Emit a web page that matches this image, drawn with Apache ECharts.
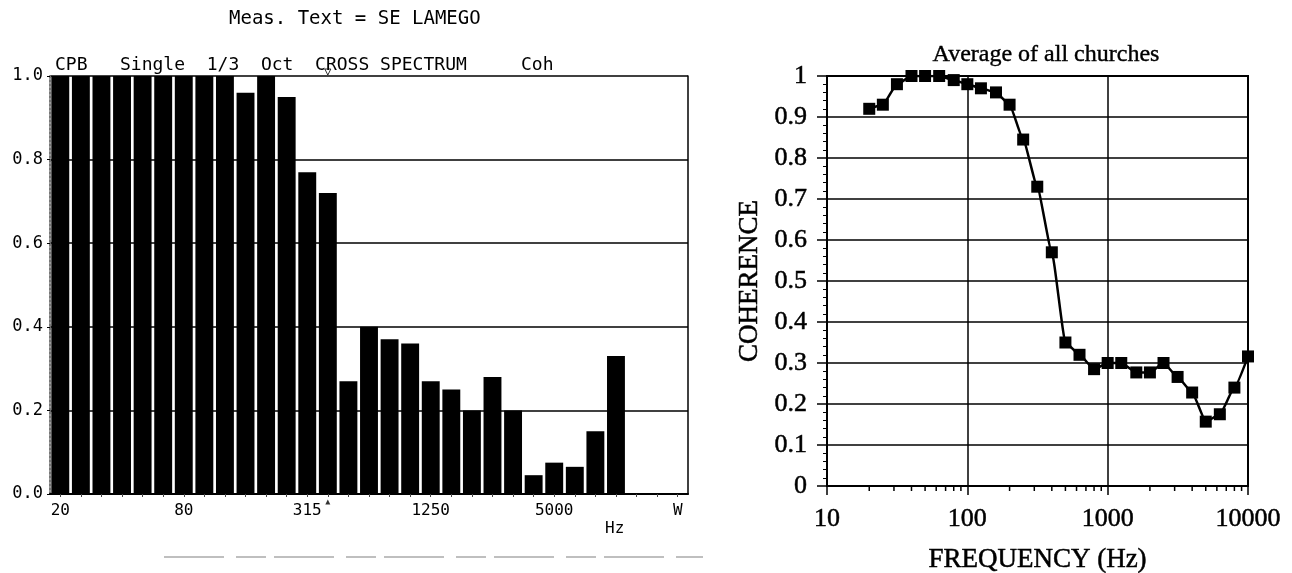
<!DOCTYPE html>
<html>
<head>
<meta charset="utf-8">
<script src="https://cdn.jsdelivr.net/npm/echarts@6/dist/echarts.min.js"></script>
<style>
html,body{margin:0;padding:0;background:#fff;}
#c{width:1292px;height:573px;}
</style>
</head>
<body>
<div id="c"></div>
<script>
// ---- Left panel: CPB 1/3 octave cross spectrum coherence (bars) ----
const leftBands = ['20','25','31.5','40','50','63','80','100','125','160','200','250','315','400','500','630','800','1000','1250','1600','2000','2500','3150','4000','5000','6300','8000','10000','12500','16000','W'];
const leftCoherence = [1,1,1,1,1,1,1,1,1,0.96,1,0.95,0.77,0.72,0.27,0.40,0.37,0.36,0.27,0.25,0.20,0.28,0.20,0.045,0.075,0.065,0.15,0.33,null,null,null];
const cursorBand = '400';
const leftTitle = 'Meas. Text = SE LAMEGO';
const leftHeader = 'CPB   Single  1/3  Oct  CROSS SPECTRUM     Coh';

// ---- Right panel: Average of all churches (line) ----
const rightFreq = [20,25,31.5,40,50,63,80,100,125,160,200,250,315,400,500,630,800,1000,1250,1600,2000,2500,3150,4000,5000,6300,8000,10000];
const rightCoherence = [0.92,0.93,0.98,1.0,1.0,1.0,0.99,0.98,0.97,0.96,0.93,0.845,0.73,0.57,0.35,0.32,0.285,0.30,0.30,0.277,0.277,0.30,0.266,0.228,0.157,0.175,0.24,0.316];
const logMinorTicks = [20,30,40,50,60,70,80,90,200,300,400,500,600,700,800,900,2000,3000,4000,5000,6000,7000,8000,9000];
const rightTitle = 'Average of all churches';

const mono = 'DejaVu Sans Mono';
const serif = 'Liberation Serif';

const chart = echarts.init(document.getElementById('c'), null, {renderer:'canvas'});

const option = {
  animation: false,
  backgroundColor: '#fff',
  title: [
    {text: leftTitle, left: 224, top: 5, textStyle:{fontFamily: mono, fontSize: 19, fontWeight: 'normal', color:'#000'}},
    {text: leftHeader, left: 50, top: 51, textStyle:{fontFamily: mono, fontSize: 18, fontWeight: 'normal', color:'#000'}},
    {text: rightTitle, left: 1041, top: 38, textAlign: 'center', textStyle:{fontFamily: serif, fontSize: 24, fontWeight: 'normal', color:'#000', textBorderColor:'#000', textBorderWidth: 0.4}}
  ],
  grid: [
    {left: 50, top: 76, width: 638, height: 418, outerBoundsMode: 'none', containLabel: false},
    {left: 827, top: 76, width: 421, height: 410, outerBoundsMode: 'none', containLabel: false, show: true, borderColor:'#000', borderWidth: 2, backgroundColor:'rgba(0,0,0,0)'}
  ],
  xAxis: [
    {
      type: 'category', gridIndex: 0, data: leftBands,
      axisLine: {show: true, lineStyle:{color:'#000', width: 2}},
      axisTick: {show: true, alignWithLabel: true, interval: 0, length: 3, lineStyle:{color:'#444', width: 1}},
      axisLabel: {interval: 5, margin: 9, color:'#000', fontFamily: mono, fontSize: 16},
      splitLine: {show: false}
    },
    {
      type: 'log', gridIndex: 1, logBase: 10, min: 10, max: 10000,
      axisLine: {show: true, lineStyle:{color:'#000', width: 2}},
      axisTick: {show: true, length: 9, lineStyle:{color:'#000', width: 1.5}},
      axisLabel: {margin: 20, color:'#000', fontFamily: serif, fontSize: 26, textBorderColor:'#000', textBorderWidth: 0.5, formatter: v => String(Math.round(v))},
      splitLine: {show: true, lineStyle:{color:'#000', width: 1.5}},
      name: 'FREQUENCY (Hz)', nameLocation: 'middle', nameGap: 60,
      nameTextStyle: {color:'#000', fontFamily: serif, fontSize: 27, textBorderColor:'#000', textBorderWidth: 0.5}
    }
  ],
  yAxis: [
    {
      type: 'value', gridIndex: 0, min: 0, max: 1, interval: 0.2,
      axisLine: {show: true, lineStyle:{color:'#777', width: 2, type:'dotted'}},
      axisTick: {show: true, length: 3, lineStyle:{color:'#000'}},
      axisLabel: {margin: 7, color:'#000', fontFamily: mono, fontSize: 17, formatter: v => v.toFixed(1)},
      splitLine: {show: true, lineStyle:{color:'#000', width: 1.5}}
    },
    {
      type: 'value', gridIndex: 0, min: 0, max: 1, interval: 0.2, position: 'right',
      axisLine: {show: true, lineStyle:{color:'#000', width: 1.5}},
      axisTick: {show: false}, axisLabel: {show: false}, splitLine: {show: false}
    },
    {
      type: 'value', gridIndex: 1, min: 0, max: 1, interval: 0.1,
      axisLine: {show: true, lineStyle:{color:'#000', width: 2}},
      axisTick: {show: true, length: 10, lineStyle:{color:'#000', width: 1.5}},
      minorTick: {show: true, splitNumber: 5, length: 4, lineStyle:{color:'#000', width: 1}},
      axisLabel: {margin: 20, color:'#000', fontFamily: serif, fontSize: 26, textBorderColor:'#000', textBorderWidth: 0.5},
      splitLine: {show: true, lineStyle:{color:'#000', width: 1.5}},
      name: 'COHERENCE', nameLocation: 'middle', nameGap: 64, nameRotate: 90,
      nameTextStyle: {color:'#000', fontFamily: serif, fontSize: 27, textBorderColor:'#000', textBorderWidth: 0.5}
    }
  ],
  series: [
    {
      type: 'bar', xAxisIndex: 0, yAxisIndex: 0,
      data: leftCoherence, barCategoryGap: '13%',
      itemStyle: {color:'#000'}, silent: true
    },
    {
      type: 'scatter', xAxisIndex: 0, yAxisIndex: 0, clip: false, silent: true,
      data: [[cursorBand, 1]], symbol: 'triangle', symbolRotate: 180, symbolSize: 6, symbolOffset: [0, -4],
      itemStyle: {color:'#fff', borderColor:'#000', borderWidth: 1}
    },
    {
      type: 'scatter', xAxisIndex: 0, yAxisIndex: 0, clip: false, silent: true,
      data: [[cursorBand, 0]], symbol: 'triangle', symbolSize: 5, symbolOffset: [0, 8],
      itemStyle: {color:'#000'}
    },
    {
      type: 'line', xAxisIndex: 1, yAxisIndex: 2,
      data: rightFreq.map((f, i) => [f, rightCoherence[i]]),
      symbol: 'rect', symbolSize: 12, showAllSymbol: true,
      smooth: 0.15, smoothMonotone: 'x',
      lineStyle: {color:'#000', width: 2.5}, itemStyle: {color:'#000'}, silent: true
    },
    {
      type: 'custom', xAxisIndex: 1, yAxisIndex: 2, clip: false, silent: true,
      data: logMinorTicks.map(f => [f, 0]),
      encode: {x: 0, y: 1},
      renderItem: (params, api) => {
        const p = api.coord([api.value(0), 0]);
        return {type:'line', shape:{x1:p[0], y1:p[1], x2:p[0], y2:p[1] + 5}, style:{stroke:'#000', lineWidth:1.5}};
      }
    }
  ],
  graphic: [
    {type:'text', left: 605, top: 521, style:{text:'Hz', font:'16px "DejaVu Sans Mono"', fill:'#000'}},
    {type:'line', shape:{x1:164, y1:557, x2:703, y2:557}, style:{stroke:'#aaa', lineWidth:1.5, lineDash:[60,12,30,8]}}
  ]
};
chart.setOption(option);
</script>
</body>
</html>
